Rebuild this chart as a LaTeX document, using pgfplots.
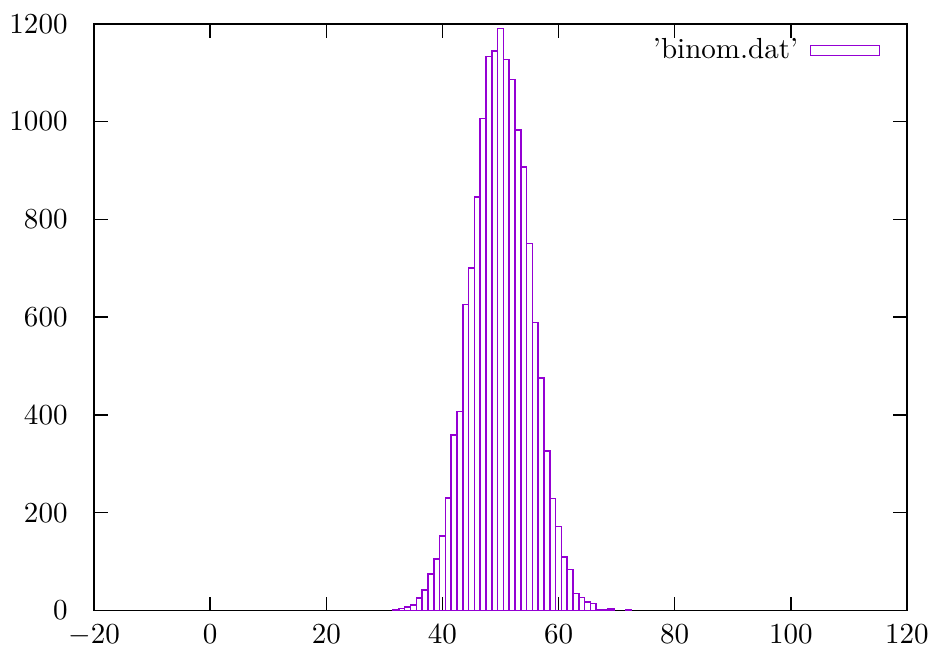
\documentclass[border=0pt]{standalone}
\usepackage{pgfplots}
\pgfplotsset{compat=1.18}
\definecolor{gpviolet}{HTML}{9400D3}

\begin{document}
\begin{tikzpicture}
\begin{axis}[
  scale only axis,
  width=280pt, height=202.1pt,
  xmin=-20, xmax=120, ymin=0, ymax=1200,
  xtick={-20,0,...,120}, ytick={0,200,...,1200},
  /pgf/number format/1000 sep={},
  tick align=inside, major tick length=4.8pt,
  tick style={black, line width=0.5pt},
  axis line style={line width=0.6pt},
  xticklabel style={yshift=-1.3pt},
  yticklabel style={xshift=-5.6pt},
  legend plot pos=right,
  legend cell align=right,
  legend style={draw=none, fill=none, inner sep=0pt, column sep=2pt,
    at={(axis description cs:1,1)}, anchor=north east,
    xshift=-8.9pt, yshift=-2.8pt},
  legend image code/.code={\draw[#1] (0pt,-1.75pt) rectangle (23.8pt,1.75pt);},
]
\addplot[ybar, bar width=1, bar shift=0pt, color=gpviolet, draw=gpviolet, fill=none, line width=0.55pt]
  coordinates {
  (32,2) (33,4) (34,7) (35,11) (36,25) (37,42) (38,75) (39,105)
  (40,152) (41,230) (42,359) (43,407) (44,626) (45,701) (46,846) (47,1006)
  (48,1133) (49,1144) (50,1190) (51,1127) (52,1086) (53,983) (54,907) (55,751)
  (56,589) (57,476) (58,326) (59,229) (60,172) (61,110) (62,84) (63,35)
  (64,27) (65,18) (66,14) (67,2) (68,1) (69,3) (72,1)
  };
\addlegendentry{'binom.dat'}
\end{axis}
\pgfresetboundingbox
\path (current axis.south west) ++(-32.4pt,-12.2pt) coordinate (bbA);
\path (current axis.north east) ++(8.3pt,8.2pt) coordinate (bbB);
\path (bbA) rectangle (bbB);
\end{tikzpicture}
\end{document}
